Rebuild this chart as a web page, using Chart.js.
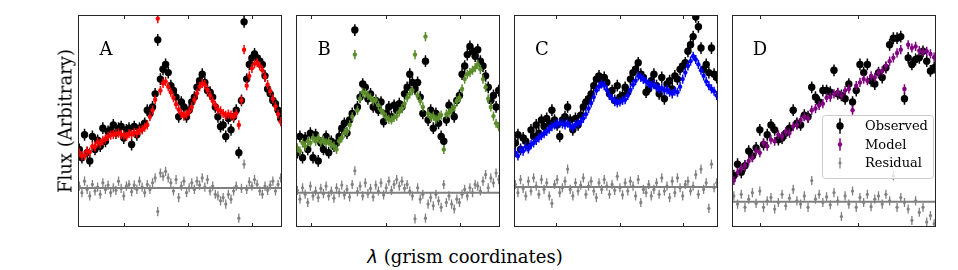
<!DOCTYPE html>
<html>
<head>
<meta charset="utf-8">
<script src="https://cdn.jsdelivr.net/npm/chart.js@4.4.0/dist/chart.umd.min.js"></script>
<style>
  body { margin: 0; background: #fff; }
  #wrap { position: relative; width: 958px; height: 270px; font-family: 'DejaVu Serif', serif; color: #000; }
  canvas.panel { position: absolute; top: 11px; }
  #ylab { position: absolute; left: 65px; top: 121px; transform: translate(-50%, -50%) rotate(-90deg); font-size: 18px; white-space: nowrap; }
  #xlab { position: absolute; left: 465px; top: 256px; transform: translate(-50%, -50%); font-size: 18px; white-space: nowrap; }
  #xlab i { font-family: 'DejaVu Sans', sans-serif; }
</style>
</head>
<body>
<div id="wrap">
  <canvas class="panel" id="panel-a" width="212" height="220" style="left:74px"></canvas>
  <canvas class="panel" id="panel-b" width="212" height="220" style="left:292px"></canvas>
  <canvas class="panel" id="panel-c" width="212" height="220" style="left:510px"></canvas>
  <canvas class="panel" id="panel-d" width="212" height="220" style="left:728px"></canvas>
  <div id="ylab">Flux (Arbitrary)</div>
  <div id="xlab"><i>λ</i> (grism coordinates)</div>
</div>
<script>
// flux in arbitrary units, one value per grism pixel (index = x)
const FLUX_MAX = 648;

// Panel A
const OBS_A = [237, 212, 282, 227, 202, 277, 237, 265, 247, 302, 262, 292, 297, 312, 287, 302, 307, 272, 297, 302,
  252, 307, 282, 302, 305, 317, 357, 347, 367, 407, 572, 452, 482, 497, 472, 432, 417, 397, 337, 382,
  367, 337, 357, 382, 397, 427, 447, 467, 442, 417, 412, 397, 367, 337, 307, 312, 277, 332, 297, 337,
  357, 227, 387, 627, 452, 497, 517, 529, 517, 507, 497, 462, 422, 407, 387, 377, 357, 332];
const MOD_A = [227, 217, 219, 232, 229, 247, 245, 259, 255, 265, 269, 277, 281, 283, 285, 287, 283, 281, 277, 285,
  283, 289, 287, 295, 297, 305, 312, 337, 357, 389, 637, 417, 439, 445, 429, 412, 395, 375, 359, 347,
  339, 345, 352, 367, 389, 409, 429, 439, 435, 419, 402, 385, 372, 359, 355, 347, 341, 345, 342, 337,
  347, 312, 387, 542, 432, 462, 485, 499, 502, 492, 479, 459, 435, 415, 392, 369, 345, 322];
const RES_A = [125, 105, 140, 115, 95, 130, 110, 122, 100, 135, 115, 128, 105, 120, 112, 140, 118, 95, 125, 130,
  108, 128, 115, 140, 122, 105, 130, 115, 135, 150, 47, 165, 155, 170, 150, 135, 110, 145, 90, 125,
  140, 105, 120, 135, 115, 140, 128, 150, 122, 145, 110, 125, 100, 95, 80, 90, 70, 100, 85, 110,
  125, 27, 118, 192, 115, 138, 125, 145, 130, 110, 100, 125, 112, 128, 140, 110, 130, 150];
const ZERO_A = 119;
const TICKS_A = [17.2, 41.7, 66.2];

// Panel B
const OBS_B = [227, 277, 212, 272, 237, 287, 212, 282, 202, 257, 237, 277, 227, 262, 247, 257, 277, 302, 317, 287,
  327, 347, 602, 367, 397, 437, 427, 392, 407, 367, 387, 357, 382, 322, 347, 367, 337, 372, 357, 377,
  367, 407, 427, 467, 442, 422, 442, 397, 347, 507, 327, 357, 302, 347, 317, 277, 262, 327, 372, 357,
  337, 387, 402, 467, 492, 527, 552, 537, 522, 542, 507, 492, 462, 427, 387, 402, 367, 417];
const MOD_B = [242, 232, 257, 247, 262, 257, 272, 262, 272, 259, 265, 257, 262, 252, 247, 237, 262, 272, 287, 292,
  312, 337, 527, 357, 392, 412, 409, 402, 395, 385, 389, 372, 357, 347, 335, 329, 327, 335, 339, 352,
  362, 377, 395, 407, 417, 527, 402, 385, 367, 582, 347, 335, 339, 329, 335, 342, 237, 345, 349, 357,
  367, 385, 395, 422, 452, 467, 472, 479, 487, 497, 482, 452, 427, 392, 367, 339, 317, 307];
const RES_B = [112, 85, 120, 100, 75, 125, 95, 110, 90, 118, 102, 125, 95, 110, 88, 120, 105, 128, 98, 115,
  92, 130, 172, 108, 125, 95, 135, 102, 118, 92, 128, 110, 135, 98, 120, 140, 112, 130, 145, 125,
  140, 118, 130, 110, 95, 25, 120, 85, 100, 27, 70, 90, 65, 100, 80, 60, 130, 75, 95, 70,
  55, 85, 75, 100, 115, 95, 120, 105, 130, 125, 110, 140, 160, 120, 150, 135, 165, 145];
const ZERO_B = 105;
const TICKS_B = [5.4, 33.8, 62.1];

// Panel C
const OBS_C = [257, 282, 237, 272, 262, 247, 297, 277, 312, 287, 327, 307, 332, 317, 357, 327, 312, 277, 327, 337,
  367, 327, 297, 332, 312, 342, 367, 382, 392, 407, 432, 452, 462, 447, 457, 442, 407, 417, 387, 432,
  397, 402, 427, 412, 452, 472, 482, 502, 467, 457, 412, 422, 447, 467, 432, 407, 457, 392, 437, 447,
  422, 462, 452, 482, 492, 502, 537, 557, 582, 642, 612, 547, 482, 497, 472, 547, 467, 457];
const MOD_C = [227, 217, 237, 232, 245, 239, 252, 257, 265, 272, 279, 285, 292, 299, 307, 312, 315, 317, 315, 312,
  317, 309, 305, 312, 317, 322, 332, 345, 362, 379, 397, 417, 429, 437, 432, 419, 402, 392, 385, 379,
  382, 387, 389, 402, 419, 435, 447, 462, 457, 452, 445, 439, 432, 435, 427, 422, 425, 417, 419, 412,
  407, 415, 412, 429, 452, 472, 492, 507, 522, 512, 497, 479, 462, 445, 432, 422, 415, 402];
const RES_C = [130, 105, 145, 118, 95, 140, 110, 150, 125, 100, 145, 115, 135, 95, 72, 130, 145, 105, 120, 140,
  177, 115, 95, 135, 110, 128, 150, 100, 125, 140, 110, 90, 135, 115, 145, 125, 100, 130, 112, 155,
  120, 98, 135, 110, 140, 125, 95, 145, 75, 115, 105, 130, 95, 115, 135, 100, 150, 110, 125, 90,
  140, 105, 150, 120, 95, 130, 140, 110, 125, 160, 100, 177, 115, 135, 57, 192, 120, 135];
const ZERO_C = 122;
const TICKS_C = [15.5, 39.9, 64.3];

// Panel D
const OBS_D = [157, 192, 167, 187, 232, 217, 242, 297, 252, 282, 312, 297, 267, 272, 287, 302, 357, 317, 312, 342,
  337, 427, 397, 382, 417, 417, 412, 479, 407, 402, 392, 437, 382, 417, 497, 472, 497, 447, 437, 472,
  457, 487, 557, 577, 577, 582, 392, 517, 497, 512, 517, 537, 507, 477, 487];
const MOD_D = [142, 167, 179, 187, 202, 212, 232, 227, 257, 247, 267, 262, 282, 277, 292, 287, 307, 312, 327, 337,
  332, 357, 362, 372, 377, 395, 397, 407, 412, 402, 417, 422, 357, 432, 442, 452, 447, 462, 457, 472,
  477, 492, 507, 517, 532, 542, 422, 557, 547, 552, 539, 535, 537, 529, 519];
const RES_D = [95, 70, 100, 60, 85, 105, 72, 110, 60, 80, 90, 55, 75, 100, 65, 88, 115, 80, 70, 95,
  60, 142, 85, 100, 75, 92, 68, 105, 80, 32, 95, 70, 110, 60, 90, 75, 100, 62, 85, 95,
  70, 100, 80, 157, 60, 90, 75, 55, 20, 80, 45, 60, 15, 35, 10];
const ZERO_D = 77;
const TICKS_D = [7.1, 33.5];

// 1-sigma errors, same units as the flux
const OBS_ERR = 18;
const MOD_ERR = 14;
const RES_ERR = 14;

const SERIES_NAMES = ['Observed', 'Model', 'Residual'];

// error bars, frame, inward ticks, panel letter and legend
const panelDeco = {
    id: 'panelDeco',
    beforeDatasetDraw(chart, args) {
        const ds = chart.data.datasets[args.index];
        if (!ds.errorBar) return;
        const ctx = chart.ctx;
        const a = chart.chartArea;
        const ys = chart.scales.y;
        ctx.save();
        ctx.beginPath();
        ctx.rect(a.left, a.top, a.width, a.height);
        ctx.clip();
        ctx.strokeStyle = ds.backgroundColor;
        ctx.lineWidth = ds.errorWidth;
        ctx.beginPath();
        args.meta.data.forEach((pt, i) => {
            const v = ds.data[i].y;
            ctx.moveTo(pt.x, ys.getPixelForValue(v + ds.errorBar));
            ctx.lineTo(pt.x, ys.getPixelForValue(v - ds.errorBar));
        });
        ctx.stroke();
        ctx.restore();
    },
    afterDraw(chart, args, opts) {
        const ctx = chart.ctx;
        const a = chart.chartArea;
        const xs = chart.scales.x;
        ctx.save();

        // frame
        ctx.strokeStyle = '#262626';
        ctx.lineWidth = 1;
        ctx.strokeRect(a.left + 0.5, a.top + 0.5, a.width - 1, a.height - 1);

        // inward ticks top and bottom
        ctx.beginPath();
        (opts.ticks || []).forEach(v => {
            const px = Math.round(xs.getPixelForValue(v)) + 0.5;
            ctx.moveTo(px, a.bottom);
            ctx.lineTo(px, a.bottom - 4);
            ctx.moveTo(px, a.top);
            ctx.lineTo(px, a.top + 4);
        });
        ctx.stroke();

        // panel letter
        ctx.fillStyle = '#000';
        ctx.font = '18px "DejaVu Serif", serif';
        ctx.textAlign = 'center';
        ctx.textBaseline = 'middle';
        ctx.fillText(opts.label, a.left + 28, a.top + 35);

        if (opts.legend) {
            const bx = a.right - 114, by = a.top + 100, bw = 111, bh = 63;
            ctx.beginPath();
            ctx.roundRect(bx + 0.5, by + 0.5, bw, bh, 3);
            ctx.fillStyle = 'rgba(255,255,255,0.8)';
            ctx.fill();
            ctx.strokeStyle = '#cccccc';
            ctx.stroke();
            const rows = chart.data.datasets.slice(0, 3);
            const order = [1, 0, 2]; // observed, model, residual
            order.forEach((di, r) => {
                const ds = rows[di];
                const cy = by + 11 + r * 18.5;
                const cx = bx + 18;
                const err = ds.pointRadius + 4;
                ctx.strokeStyle = ds.backgroundColor;
                ctx.lineWidth = ds.errorWidth;
                ctx.beginPath();
                ctx.moveTo(cx, cy - err);
                ctx.lineTo(cx, cy + err);
                ctx.stroke();
                ctx.fillStyle = ds.backgroundColor;
                ctx.beginPath();
                ctx.arc(cx, cy, ds.pointRadius, 0, Math.PI * 2);
                ctx.fill();
                ctx.fillStyle = '#000';
                ctx.font = '13px "DejaVu Serif", serif';
                ctx.textAlign = 'left';
                ctx.fillText(ds.label, bx + 43, cy + 1);
            });
        }
        ctx.restore();
    }
};

function toPoints(values) {
    return values.map((y, i) => ({ x: i, y: y }));
}

function makePanel(id, label, obs, mod, res, zero, ticks, color, legend) {
    const n = obs.length;
    const ctx = document.getElementById(id).getContext('2d');
    return new Chart(ctx, {
        type: 'scatter',
        data: {
            datasets: [
                {
                    label: SERIES_NAMES[1],
                    data: toPoints(mod),
                    backgroundColor: color,
                    borderWidth: 0,
                    pointRadius: 2.2,
                    errorBar: MOD_ERR,
                    errorWidth: 1.5,
                    clip: 0
                },
                {
                    label: SERIES_NAMES[0],
                    data: toPoints(obs),
                    backgroundColor: '#000000',
                    borderWidth: 0,
                    pointRadius: 3.7,
                    errorBar: OBS_ERR,
                    errorWidth: 1.5,
                    clip: 0
                },
                {
                    label: SERIES_NAMES[2],
                    data: toPoints(res),
                    backgroundColor: '#808080',
                    borderWidth: 0,
                    pointRadius: 1.6,
                    errorBar: RES_ERR,
                    errorWidth: 1.3,
                    clip: 0
                },
                {
                    type: 'line',
                    label: 'zero',
                    data: [{ x: -0.5, y: zero }, { x: n - 0.5, y: zero }],
                    borderColor: '#808080',
                    borderWidth: 2,
                    pointRadius: 0,
                    clip: 0
                }
            ]
        },
        options: {
            responsive: false,
            animation: false,
            events: [],
            layout: { padding: 2 },
            scales: {
                x: { type: 'linear', min: -0.5, max: n - 0.5, display: false },
                y: { type: 'linear', min: 0, max: FLUX_MAX, display: false }
            },
            plugins: {
                legend: { display: false },
                tooltip: { enabled: false },
                panelDeco: { label: label, ticks: ticks, legend: legend }
            }
        },
        plugins: [panelDeco]
    });
}

document.addEventListener('DOMContentLoaded', () => {
    makePanel('panel-a', 'A', OBS_A, MOD_A, RES_A, ZERO_A, TICKS_A, '#ff0000', false);
    makePanel('panel-b', 'B', OBS_B, MOD_B, RES_B, ZERO_B, TICKS_B, '#5b8e2a', false);
    makePanel('panel-c', 'C', OBS_C, MOD_C, RES_C, ZERO_C, TICKS_C, '#0000ff', false);
    makePanel('panel-d', 'D', OBS_D, MOD_D, RES_D, ZERO_D, TICKS_D, '#800080', true);
});
</script>
</body>
</html>
